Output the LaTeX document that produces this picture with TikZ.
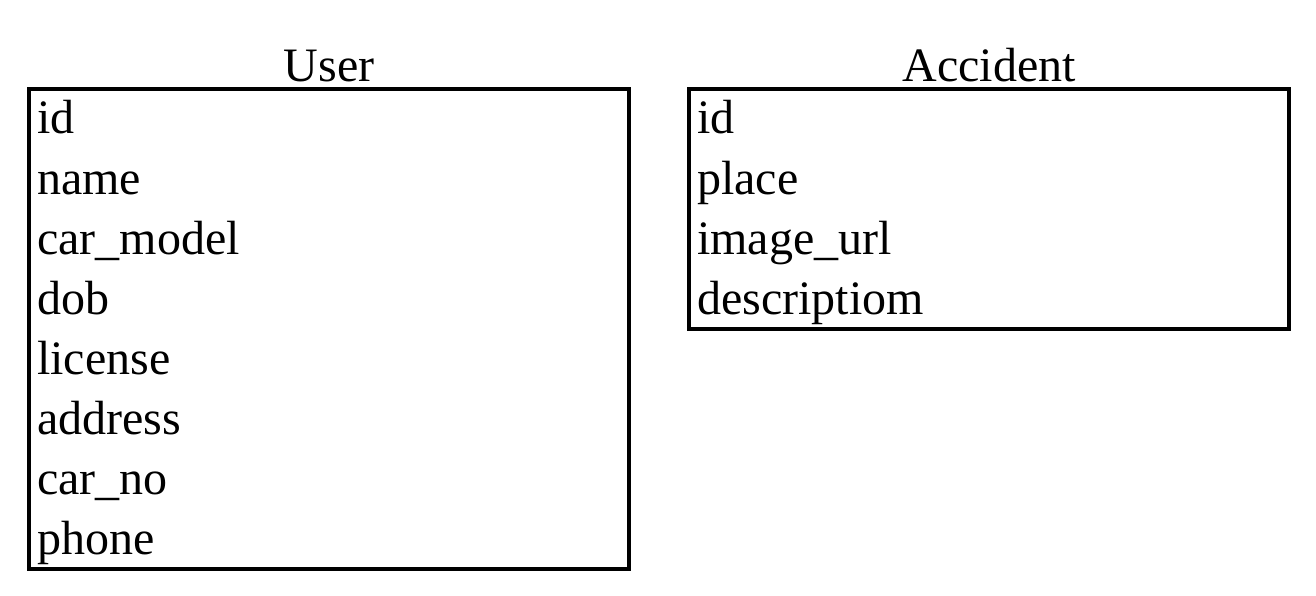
\documentclass[tikz,border=0pt]{standalone}
\usepackage{fontspec}
\setmainfont{Liberation Serif}
\usetikzlibrary{positioning}

\tikzset{
  tablebox/.style={draw, line width=3.5pt, inner sep=0pt, outer sep=0pt, anchor=north west},
  tabletitle/.style={anchor=base, inner sep=0pt, font=\fontsize{48}{60}\selectfont},
  field/.style={anchor=base west, inner sep=0pt, font=\fontsize{48}{60}\selectfont},
}

\begin{document}
\begin{tikzpicture}[x=1pt,y=-1pt]
  \useasboundingbox (0,0) rectangle (1316,596);

  % User table
  \node[tablebox, minimum width=600pt, minimum height=480pt] (user) at (29,89) {};
  \node[tabletitle] (usertitle) at ([yshift=7pt]user.north) {User};
  \foreach \f [count=\i] in {id,name,car\_model,dob,license,address,car\_no,phone}
    \node[field] (user-\i) at ([xshift=8pt,yshift={-45pt-60pt*(\i-1)}]user.north west) {\f};

  % Accident table
  \node[tablebox, minimum width=600pt, minimum height=240pt] (accident) at (689,89) {};
  \node[tabletitle] (accidenttitle) at ([yshift=7pt]accident.north) {Accident};
  \foreach \f [count=\i] in {id,place,image\_url,descriptiom}
    \node[field] (accident-\i) at ([xshift=8pt,yshift={-45pt-60pt*(\i-1)}]accident.north west) {\f};
\end{tikzpicture}
\end{document}
